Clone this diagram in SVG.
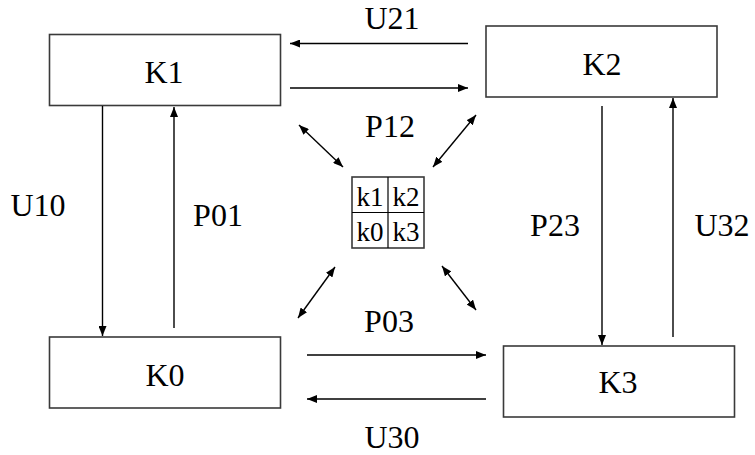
<svg xmlns="http://www.w3.org/2000/svg" width="755" height="455" viewBox="0 0 755 455">
  <style>
    .box { fill: #ffffff; stroke: #3a3a3a; stroke-width: 1.6; }
    .lbl { font-size: 32px; fill: #000; text-anchor: middle; }
    .cell { font-size: 27px; fill: #000; text-anchor: middle; }
    .edge { stroke: #000; stroke-width: 1.4; fill: none; }
    .arr { marker-end: url(#head); }
    .both { marker-start: url(#headStart); marker-end: url(#head); }
  </style>
  <defs>
    <marker id="head" viewBox="0 0 10 8" refX="10" refY="4" markerWidth="10" markerHeight="8" markerUnits="userSpaceOnUse" orient="auto">
      <path d="M0,0 L10,4 L0,8 Z" fill="#000"/>
    </marker>
    <marker id="headStart" viewBox="0 0 10 8" refX="0" refY="4" markerWidth="10" markerHeight="8" markerUnits="userSpaceOnUse" orient="auto">
      <path d="M10,0 L0,4 L10,8 Z" fill="#000"/>
    </marker>
  </defs>

  <g font-family="Times New Roman, Liberation Serif, DejaVu Serif, serif">
  <!-- state boxes -->
  <g id="K1">
    <rect class="box" x="49.5" y="34.5" width="231" height="71"/>
    <text class="lbl" x="164" y="83">K1</text>
  </g>
  <g id="K2">
    <rect class="box" x="486" y="26" width="231" height="71"/>
    <text class="lbl" x="602" y="75">K2</text>
  </g>
  <g id="K0">
    <rect class="box" x="49.5" y="337" width="231" height="71"/>
    <text class="lbl" x="165" y="386">K0</text>
  </g>
  <g id="K3">
    <rect class="box" x="503.5" y="346" width="231" height="71"/>
    <text class="lbl" x="618" y="393">K3</text>
  </g>

  <!-- key grid in the centre -->
  <g id="grid">
    <rect class="box" x="352" y="177" width="72" height="71" stroke="#000" stroke-width="1.2"/>
    <line x1="388" y1="177" x2="388" y2="248" stroke="#000" stroke-width="1.2"/>
    <line x1="352" y1="212.5" x2="424" y2="212.5" stroke="#000" stroke-width="1.2"/>
    <text class="cell" x="370" y="206">k1</text>
    <text class="cell" x="406" y="206">k2</text>
    <text class="cell" x="370" y="241">k0</text>
    <text class="cell" x="406" y="241">k3</text>
  </g>

  <!-- transitions -->
  <g id="connectors">
    <line class="edge arr" x1="468" y1="43.5" x2="290" y2="43.5"/>
    <line class="edge arr" x1="290" y1="88" x2="468" y2="88"/>
    <line class="edge arr" x1="102.5" y1="106" x2="102.5" y2="336"/>
    <line class="edge arr" x1="174" y1="328" x2="174" y2="107"/>
    <line class="edge arr" x1="602" y1="106" x2="602" y2="345"/>
    <line class="edge arr" x1="673" y1="337" x2="673" y2="98"/>
    <line class="edge arr" x1="307" y1="355" x2="486" y2="355"/>
    <line class="edge arr" x1="486" y1="399" x2="307" y2="399"/>
    <line class="edge both" x1="299" y1="125" x2="343" y2="167"/>
    <line class="edge both" x1="476" y1="115" x2="433" y2="167"/>
    <line class="edge both" x1="335" y1="267" x2="298" y2="318"/>
    <line class="edge both" x1="442" y1="266" x2="476" y2="310"/>
  </g>

  <!-- transition labels -->
  <g id="labels">
    <text class="lbl" x="392" y="29">U21</text>
    <text class="lbl" x="390" y="137">P12</text>
    <text class="lbl" x="38" y="216">U10</text>
    <text class="lbl" x="218" y="226">P01</text>
    <text class="lbl" x="555" y="236">P23</text>
    <text class="lbl" x="722" y="236">U32</text>
    <text class="lbl" x="389" y="332">P03</text>
    <text class="lbl" x="392" y="448">U30</text>
  </g>
  </g>
</svg>
